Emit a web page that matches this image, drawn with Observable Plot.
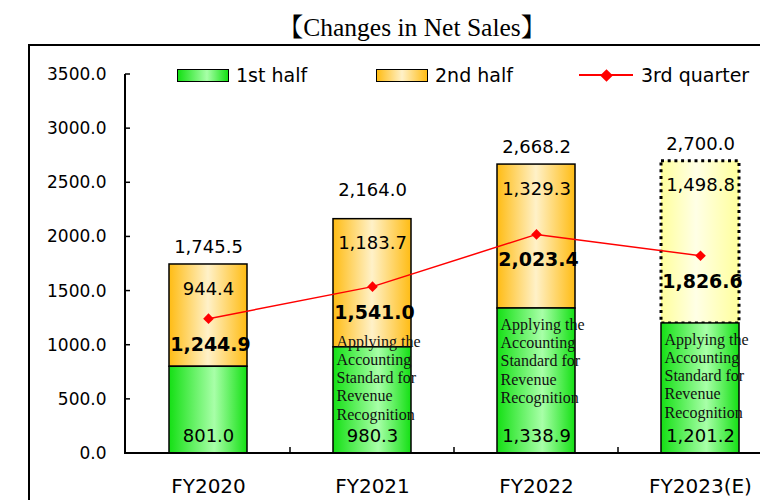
<!DOCTYPE html>
<html><head><meta charset="utf-8">
<script src="https://cdn.jsdelivr.net/npm/d3@7"></script>
<script src="https://cdn.jsdelivr.net/npm/@observablehq/plot@0.6"></script>
<style>
html,body{margin:0;padding:0;background:#fff;overflow:hidden;}
#wrap{position:relative;width:760px;height:500px;overflow:hidden;}
#chart{position:absolute;left:0;top:0;}
#frame{position:absolute;left:28px;top:44px;width:800px;height:500px;border-top:2px solid #000;border-left:2px solid #000;pointer-events:none;}
#title{position:absolute;left:0;width:824px;top:13px;text-align:center;font:25.5px/30px "Liberation Serif","Noto Serif CJK JP","Noto Sans CJK JP",serif;color:#000;white-space:nowrap;}
.item{position:absolute;top:64px;height:22px;display:flex;align-items:center;font:19px "DejaVu Sans",sans-serif;color:#000;white-space:nowrap;}
.sw{width:50px;height:11px;border:1.5px solid #000;margin-right:7px;}
.ln{position:relative;width:54px;height:2px;background:#ff0000;margin-right:8px;}
.ln::after{content:"";position:absolute;left:22.5px;top:-3.5px;width:9px;height:9px;background:#ff0000;transform:rotate(45deg);}
</style>
</head><body>
<div id="wrap">
  <div id="chart"></div>
  <div id="frame"></div>
  <div id="title">【Changes in Net Sales】</div>
  <div class="item" style="left:177px"><div class="sw" id="swG"></div>1st half</div>
  <div class="item" style="left:376px"><div class="sw" id="swO"></div>2nd half</div>
  <div class="item" style="left:579px"><div class="ln"></div>3rd quarter</div>
</div>
<script>
// ---- data ----
const years = ["FY2020", "FY2021", "FY2022", "FY2023(E)"];
const firstHalf = [801.0, 980.3, 1338.9, 1201.2];
const secondHalf = [944.4, 1183.7, 1329.3, 1498.8];
const fullYear = [1745.5, 2164.0, 2668.2, 2700.0];
const thirdQuarter = [1244.9, 1541.0, 2023.4, 1826.6];
const noteText = "Applying the\nAccounting\nStandard for\nRevenue\nRecognition";
const notes = [null, noteText, noteText, noteText];
const yTicks = [0, 500, 1000, 1500, 2000, 2500, 3000, 3500];

// ---- styling constants ----
const greenEdge = "#14e014", greenMid = "#a8ffa8";
const orangeEdge = "#ffbc14", orangeMid = "#fff1c8";
const yellowEdge = "#ffff9c", yellowMid = "#ffffe6";

document.getElementById("swG").style.background = `linear-gradient(to right, ${greenEdge}, ${greenMid} 58%, ${greenEdge})`;
document.getElementById("swO").style.background = `linear-gradient(to right, ${orangeEdge}, ${orangeMid} 50%, ${orangeEdge})`;

const rows = years.map((year, i) => ({
  year, first: firstHalf[i], second: secondHalf[i], total: fullYear[i],
  q3: thirdQuarter[i], note: notes[i], estimate: year.includes("(E)")
}));

const xRange = [125, 783];
const padInner = 0.526;
const step = (xRange[1] - xRange[0]) / years.length;
const bw = step * (1 - padInner);
const fmt = d3.format(",.1f");

function axisLines(index, scales, values, dims) {
  const x = scales.x, y = scales.y;
  const g = d3.create("svg:g").attr("stroke", "#000").attr("fill", "none");
  const left = dims.marginLeft;
  const y0 = y(0);
  g.append("line").attr("x1", left).attr("x2", xRange[1]).attr("y1", y0).attr("y2", y0).attr("stroke-width", 2);
  g.append("line").attr("x1", left).attr("x2", left).attr("y1", y0 + 1).attr("y2", y(yTicks[yTicks.length - 1])).attr("stroke-width", 2);
  yTicks.forEach(t => g.append("line").attr("x1", left).attr("x2", left + 5).attr("y1", y(t)).attr("y2", y(t)).attr("stroke-width", 1.5));
  const b = x.bandwidth ? x.bandwidth() : bw;
  for (let i = 1; i < years.length; i++) {
    const bx = (x(years[i - 1]) + b + x(years[i])) / 2;
    g.append("line").attr("x1", bx).attr("x2", bx).attr("y1", y0).attr("y2", y0 - 6).attr("stroke-width", 1.5);
  }
  return g.node();
}

const chart = Plot.plot({
  width: 760,
  height: 500,
  marginTop: 74,
  marginBottom: 47,
  marginLeft: 125,
  marginRight: 0,
  style: {fontFamily: "DejaVu Sans", fontSize: "17px", color: "#000", background: "transparent"},
  x: {domain: years, range: xRange, paddingInner: padInner, paddingOuter: padInner / 2, label: null},
  y: {domain: [0, 3500], label: null},
  marks: [
    Plot.barY(rows.filter(d => !d.estimate), {x: "year", y1: "first", y2: "total", fill: "url(#gOrange)", stroke: "#000", strokeWidth: 1.5}),
    Plot.barY(rows.filter(d => d.estimate), {x: "year", y1: "first", y2: "total", fill: "url(#gYellow)", stroke: "#000", strokeWidth: 3, strokeDasharray: "3,3.7"}),
    Plot.barY(rows, {x: "year", y1: 0, y2: "first", fill: "url(#gGreen)", stroke: "#000", strokeWidth: 1.5}),
    axisLines,
    Plot.axisY({ticks: yTicks, tickFormat: d3.format(".1f"), tickSize: 0, tickPadding: 19, fontSize: 17, label: null}),
    Plot.axisX({tickSize: 0, tickPadding: 25, fontSize: 20, label: null}),
    Plot.text(rows.filter(d => d.note && d.year !== "FY2021"), {x: "year", y: "first", text: "note", dy: 52, dx: -bw / 2 + 3, textAnchor: "start", lineAnchor: "middle", lineHeight: 1.14, fontFamily: "Liberation Serif", fontSize: 16, fill: "#111"}),
    Plot.text(rows.filter(d => d.note && d.year === "FY2021"), {x: "year", y: "first", text: "note", dy: 30, dx: -bw / 2 + 3, textAnchor: "start", lineAnchor: "middle", lineHeight: 1.14, fontFamily: "Liberation Serif", fontSize: 16, fill: "#111"}),
    Plot.line(rows, {x: "year", y: "q3", stroke: "#ff0000", strokeWidth: 1.5}),
    Plot.dot(rows, {x: "year", y: "q3", symbol: "diamond2", r: 4.8, fill: "#ff0000", stroke: "none"}),
    Plot.text(rows, {x: "year", y: 0, text: d => fmt(d.first), dy: -17.5, fontSize: 18, fill: "#000"}),
    Plot.text(rows, {x: "year", y: "total", text: d => fmt(d.second), dy: 24.5, fontSize: 18, fill: "#000"}),
    Plot.text(rows.filter(d => d.year !== "FY2021"), {x: "year", y: "total", text: d => fmt(d.total), dy: -17, fontSize: 18, fill: "#000"}),
    Plot.text(rows.filter(d => d.year === "FY2021"), {x: "year", y: "total", text: d => fmt(d.total), dy: -29, fontSize: 18, fill: "#000"}),
    Plot.text(rows, {x: "year", y: "q3", text: d => fmt(d.q3), dy: 26, dx: 2, fontSize: 19, fontWeight: "bold", fill: "#000"})
  ]
});

const defs = d3.select(chart).insert("defs", ":first-child");
function grad(id, edge, mid, pos) {
  const lg = defs.append("linearGradient").attr("id", id).attr("x1", 0).attr("x2", 1).attr("y1", 0).attr("y2", 0);
  lg.append("stop").attr("offset", 0).attr("stop-color", edge);
  lg.append("stop").attr("offset", pos).attr("stop-color", mid);
  lg.append("stop").attr("offset", 1).attr("stop-color", edge);
}
grad("gGreen", greenEdge, greenMid, 0.58);
grad("gOrange", orangeEdge, orangeMid, 0.5);
grad("gYellow", yellowEdge, yellowMid, 0.45);

document.getElementById("chart").appendChild(chart);
</script>
</body></html>
